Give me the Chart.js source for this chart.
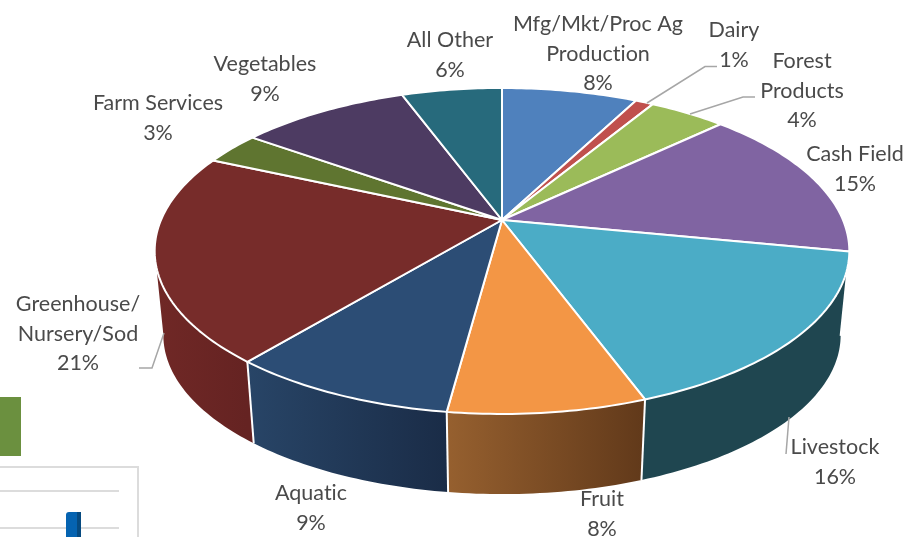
<!DOCTYPE html>
<html>
<head>
<meta charset="utf-8">
<title>Sales by sector</title>
<script src="https://cdn.jsdelivr.net/npm/chart.js@4"></script>
<style>
    html, body { margin: 0; padding: 0; background: #fff; overflow: hidden; }
    #wrap { position: relative; width: 917px; height: 537px; overflow: hidden; }
    #wrap div { position: absolute; box-sizing: border-box; }
</style>
</head>
<body>
<div id="wrap">
    <!-- cut-off pieces of the next slide objects, bottom left of the screenshot -->
    <div style="left:0;top:397px;width:21px;height:59px;background:#6b903f"></div>
    <div style="left:-4px;top:466px;width:143px;height:90px;border:2px solid #dcdcdc"></div>
    <div style="left:0;top:490px;width:119px;height:2px;background:#dcdcdc"></div>
    <div style="left:0;top:527px;width:119px;height:2px;background:#dcdcdc"></div>
    <div style="left:66px;top:512px;width:11px;height:30px;background:#0563b1;border-radius:3px 0 0 0"></div>
    <div style="left:77px;top:512px;width:4px;height:30px;background:#064a80"></div>
    <canvas id="pieChart" width="917" height="537" style="position:absolute;left:0;top:0"></canvas>
</div>
<script>
const categories = ['Mfg/Mkt/Proc Ag\nProduction', 'Dairy', 'Forest\nProducts', 'Cash Field', 'Livestock', 'Fruit',
    'Aquatic', 'Greenhouse/\nNursery/Sod', 'Farm Services', 'Vegetables', 'All Other'];
const shares = [7.6, 1.0, 4.3, 15.2, 16.3, 7.7, 8.9, 20.7, 3.2, 9.49, 5.61];
const topColors = ['#4f81bd', '#c0504d', '#9bbb59', '#8064a2', '#4bacc6', '#f39645', '#2c4d75', '#772c2a', '#5f7530', '#4d3b62', '#276a7c'];
const wallLeft = ['#3b6090', '#8f3a38', '#75903f', '#5f4a7a', '#1f4650', '#96602f', '#284567', '#702826', '#475822', '#3a2c4a', '#1d505d'];
const wallRight = ['#3b6090', '#8f3a38', '#75903f', '#5f4a7a', '#1f4650', '#61391a', '#1a2c47', '#652322', '#475822', '#3a2c4a', '#1d505d'];

// where the text of each label goes (centre x, y of first line)
const labelSpots = [[598, 24.5], [734, 30.5], [802, 61.5], [855, 154.5], [835, 447.5], [602, 499.5],
    [311, 493.5], [78, 304.5], [158, 103.5], [265, 64.5], [450, 40.5]];
const leaders = [
    [[717, 66.5], [705, 66.5], [647, 103]],
    [[755, 97], [743, 97], [690, 114]],
    [[139, 368], [152, 368], [164, 333]],
    [[786, 454], [789, 417]]
];

// tilted view of the disc: circle -> screen
const cx = 502, cy = 220, persp = 0.19, spreadX = 341, spreadY = 157.1;
const depth = 85, rimScale = 0.975;
const DEG = Math.PI / 180;
const wallFrom = 10.7 * DEG, wallTo = 169.3 * DEG;

function project(angle, lower) {
    const x = Math.cos(angle), y = Math.sin(angle);
    const w = 1 - persp * y;
    const s = lower ? rimScale : 1;
    return [cx + s * spreadX * x / w, cy + (lower ? depth : 0) + s * spreadY * y / w];
}

function traceRim(ctx, from, to, lower) {
    const steps = Math.max(2, Math.ceil(Math.abs(to - from) / DEG));
    for (let i = 0; i <= steps; i++) {
        const p = project(from + (to - from) * i / steps, lower);
        ctx.lineTo(p[0], p[1]);
    }
}

const tiltedPie = {
    id: 'tiltedPie',
    // replaces the flat arcs, angles still come from the pie controller
    beforeDatasetsDraw(chart) {
        const ctx = chart.ctx;
        const arcs = chart.getDatasetMeta(0).data;
        ctx.save();
        ctx.lineJoin = 'round';

        arcs.forEach((arc, i) => {
            const from = Math.max(arc.startAngle, wallFrom);
            const to = Math.min(arc.endAngle, wallTo);
            if (to <= from) return;
            const a = project(from, false), b = project(to, false);
            const grad = ctx.createLinearGradient(Math.max(a[0], b[0]), 0, Math.min(a[0], b[0]), 0);
            grad.addColorStop(0, wallRight[i]);
            grad.addColorStop(1, wallLeft[i]);
            ctx.beginPath();
            traceRim(ctx, from, to, false);
            traceRim(ctx, to, from, true);
            ctx.closePath();
            ctx.fillStyle = grad;
            ctx.fill();
        });

        // white seams between the wall pieces
        ctx.strokeStyle = '#fff';
        ctx.lineWidth = 2;
        arcs.forEach((arc) => {
            const angle = arc.endAngle;
            if (angle <= wallFrom || angle >= wallTo) return;
            const a = project(angle, false), b = project(angle, true);
            ctx.beginPath();
            ctx.moveTo(a[0], a[1]);
            ctx.lineTo(b[0], b[1]);
            ctx.stroke();
        });

        arcs.forEach((arc, i) => {
            ctx.beginPath();
            ctx.moveTo(cx, cy);
            traceRim(ctx, arc.startAngle, arc.endAngle, false);
            ctx.closePath();
            ctx.fillStyle = topColors[i];
            ctx.fill();
            ctx.lineWidth = 2;
            ctx.strokeStyle = '#fff';
            ctx.stroke();
        });
        ctx.restore();
        return false;
    },
    afterDraw(chart) {
        const ctx = chart.ctx;
        ctx.save();
        ctx.strokeStyle = '#a6a6a6';
        ctx.lineWidth = 1.5;
        leaders.forEach((line) => {
            ctx.beginPath();
            line.forEach((p, i) => i ? ctx.lineTo(p[0], p[1]) : ctx.moveTo(p[0], p[1]));
            ctx.stroke();
        });
        ctx.font = '21.5px Lato, "Open Sans", sans-serif';
        ctx.letterSpacing = '0.01px'; // keeps Lato from joining "ti"
        ctx.fillStyle = '#4a4a4a';
        ctx.textAlign = 'center';
        ctx.textBaseline = 'middle';
        categories.forEach((name, i) => {
            const lines = name.split('\n').concat(Math.round(shares[i]) + '%');
            lines.forEach((text, n) => ctx.fillText(text, labelSpots[i][0], labelSpots[i][1] + n * 29.5));
        });
        ctx.restore();
    }
};

new Chart(document.getElementById('pieChart').getContext('2d'), {
    type: 'pie',
    data: {
        labels: categories,
        datasets: [{ data: shares, backgroundColor: topColors, borderColor: '#fff', borderWidth: 2 }]
    },
    options: {
        responsive: false,
        animation: false,
        plugins: { legend: { display: false }, tooltip: { enabled: false } }
    },
    plugins: [tiltedPie]
});
</script>
</body>
</html>
